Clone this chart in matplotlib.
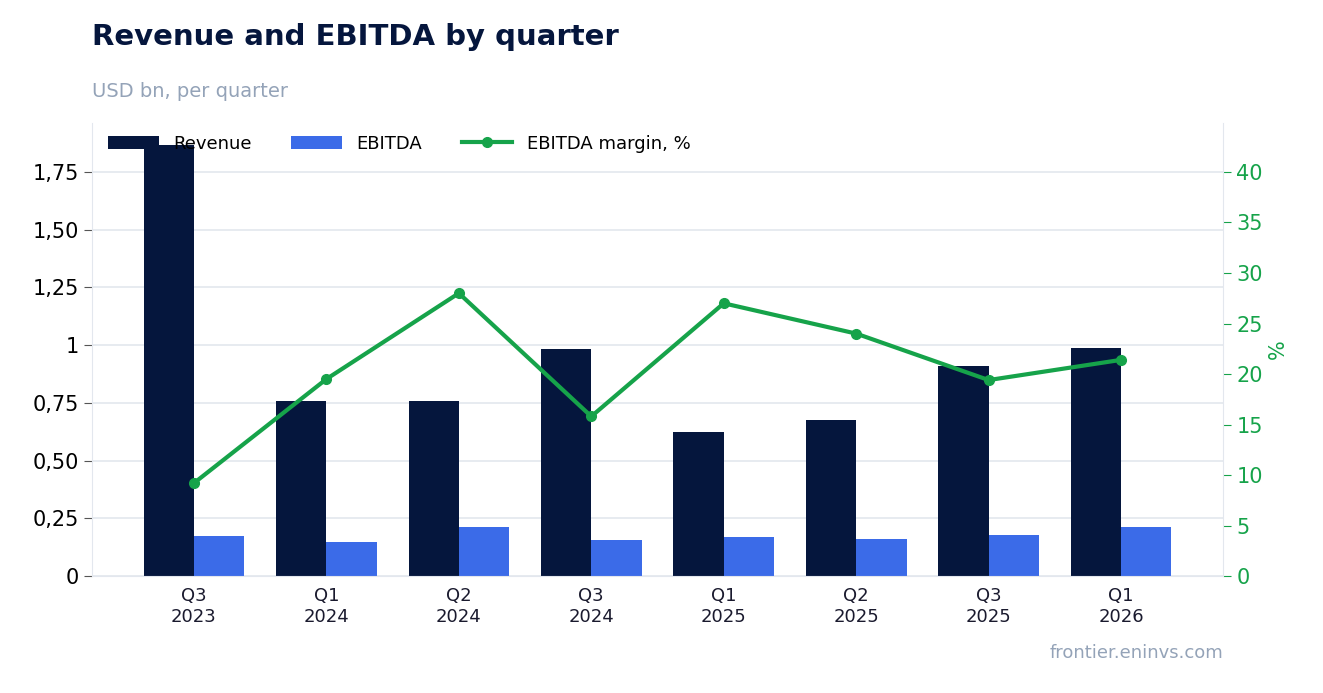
import numpy as np
import matplotlib.pyplot as plt

quarters = ["Q3\n2023", "Q1\n2024", "Q2\n2024", "Q3\n2024", "Q1\n2025", "Q2\n2025", "Q3\n2025", "Q1\n2026"]
revenue = [1.865, 0.758, 0.758, 0.983, 0.622, 0.675, 0.908, 0.988]
ebitda = [0.172, 0.148, 0.212, 0.155, 0.168, 0.160, 0.178, 0.212]
margin = [9.2, 19.5, 28.0, 15.8, 27.0, 24.0, 19.4, 21.4]
left_ticks = [0, 0.25, 0.5, 0.75, 1, 1.25, 1.5, 1.75]
left_labels = ["0", "0,25", "0,50", "0,75", "1", "1,25", "1,50", "1,75"]

navy = "#05163d"
blue = "#3b6be8"
green = "#16a34a"
grid = "#e3e7ee"

fig = plt.figure(figsize=(13.23, 6.93), dpi=100)
ax = fig.add_axes([0.0695, 0.1688, 0.855, 0.6537])
x = np.arange(len(quarters))
w = 0.38
ax.bar(x - w/2, revenue, w, color=navy, label="Revenue", zorder=2)
ax.bar(x + w/2, ebitda, w, color=blue, label="EBITDA", zorder=2)
ax.set_xlim(-0.77, 7.77)
ax.set_ylim(0, 1.962)
ax.set_yticks(left_ticks)
ax.set_yticklabels(left_labels)
ax.set_xticks(x)
ax.set_xticklabels(quarters, fontsize=13, color="#1a1a2e")
ax.tick_params(axis="y", labelsize=15, color="#555", length=6)
ax.tick_params(axis="x", length=0, pad=8)
ax.grid(axis="y", color=grid, lw=1.2, zorder=0)
for s in ["top", "right"]:
    ax.spines[s].set_visible(False)
for s in ["left", "bottom"]:
    ax.spines[s].set_color(grid)

ax2 = ax.twinx()
ax2.plot(x, margin, color=green, lw=3, marker="o", ms=7, label="EBITDA margin, %", zorder=3)
ax2.set_ylim(0, 44.85)
ax2.set_yticks(range(0, 45, 5))
ax2.tick_params(axis="y", labelsize=15, colors=green, length=6)
ax2.set_ylabel("%", color=green, fontsize=15)
for s in ["top", "left", "bottom"]:
    ax2.spines[s].set_visible(False)
ax2.spines["right"].set_color(grid)

h1, l1 = ax.get_legend_handles_labels()
h2, l2 = ax2.get_legend_handles_labels()
ax2.legend(h1 + h2, l1 + l2, loc="upper left", ncol=3, frameon=False, fontsize=13,
           bbox_to_anchor=(0.0, 1.01), handlelength=2.8, columnspacing=2.2)

fig.text(0.0695, 0.935, "Revenue and EBITDA by quarter", fontsize=21, fontweight="bold", color=navy)
fig.text(0.0695, 0.86, "USD bn, per quarter", fontsize=14, color="#94a3b8")
fig.text(0.9244, 0.05, "frontier.eninvs.com", fontsize=13, color="#94a3b8", ha="right")
fig.savefig("out.png", dpi=100)
